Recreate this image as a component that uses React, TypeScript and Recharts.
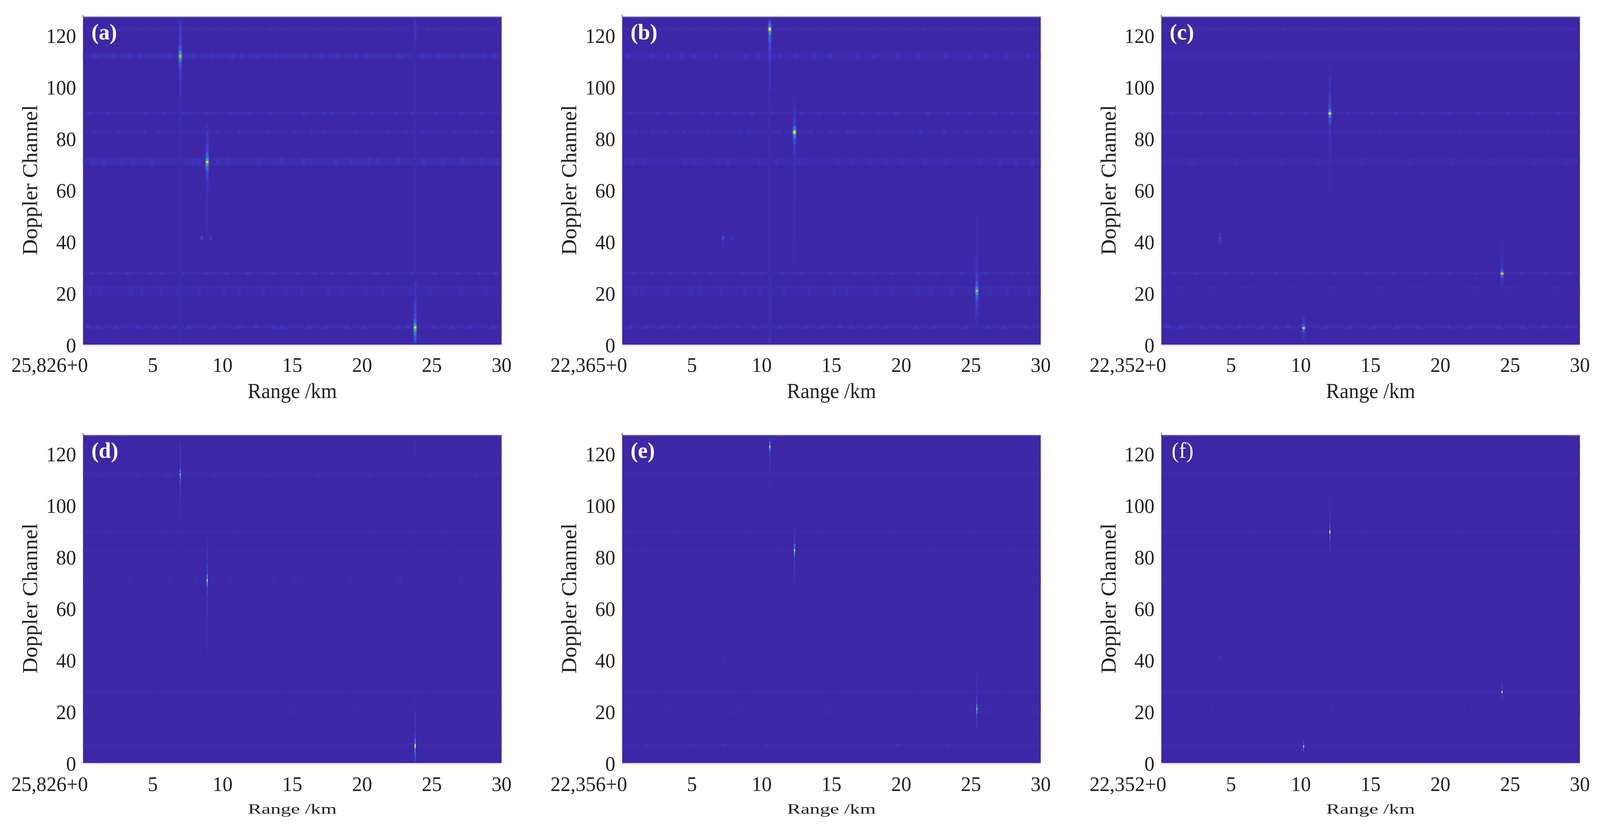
import { ReferenceArea, ReferenceLine, Scatter, ScatterChart, XAxis, YAxis } from "recharts";

// shared axes
const rangeTicks = [0, 5, 10, 15, 20, 25, 30];
const dopplerTicks = [0, 20, 40, 60, 80, 100, 120];
const imageTop = 127.1;

// clutter rows seen in every panel
const bandChannels = [7, 21, 27.7, 71, 82.6, 89.8, 112, 122.5];
const bandThickness = [1.4, 3.6, 1, 2.8, 1.3, 1, 2.4, 1.1];

// (a)
const aBandLevels = [0.028, 0.016, 0.028, 0.022, 0.02, 0.03, 0.022, 0.018];
const aSpots = [
  [0.4, 1.1, 2.3, 3.9, 5.2, 6.6, 7.6, 9.4, 11.2, 12.4, 13.7, 14.3, 16.2, 17.4, 18.9, 20.1, 22.6, 23.3, 25.1, 26.5, 27.8, 29.4],
  [0.5, 1.2, 3.4, 4.2, 5.6, 6.8, 8.3, 10.1, 11.2, 12.9, 14.6, 15.7, 17.6, 18.6, 20.3, 21.5, 23.4, 24.9, 27.1, 28.9],
  [0.6, 1.9, 3.2, 4.8, 5.7, 7.1, 8.9, 10.3, 11.8, 13.6, 15.4, 16.6, 17.9, 19.2, 21.0, 21.8, 23.6, 25.2, 26.9, 28.4, 29.6],
  [0.7, 1.5, 2.8, 3.6, 4.9, 7.9, 8.3, 9.7, 10.4, 12.6, 14.2, 15.8, 16.3, 18.1, 19.2, 20.5, 21.1, 22.6, 24.4, 25.8, 27.2, 28.6, 29.7],
  [0.8, 2.5, 4.4, 5.5, 7.1, 8.6, 9.6, 11.2, 13.2, 15.2, 16.4, 17.3, 19.6, 20.8, 21.8, 23.1, 24.3, 26.7, 28.2, 29.3],
  [0.5, 1.8, 4.5, 5.8, 7.2, 8.9, 10.6, 11.9, 13.4, 15.8, 17.2, 17.9, 19.4, 20.7, 22.4, 23.6, 25.3, 27.1, 28.6],
  [0.9, 2.1, 3.4, 4.1, 5.7, 6.1, 7.9, 9.2, 10.7, 11.4, 12.6, 13.9, 15.9, 17.1, 18.2, 19.6, 20.4, 22.7, 24.3, 25.4, 27.2, 28.8, 29.5],
  [1.2, 2.6, 4.0, 5.1, 7.9, 9.1, 10.2, 11.7, 13.4, 14.2, 16.8, 18.2, 19.9, 20.6, 22.0, 24.7, 25.4, 26.9, 28.6],
];
const aPeakRanges = [6.97, 8.9, 23.8, 8.5, 9.15];
const aPeakChannels = [
  [0.8, 80, 92, 100, 106, 109, 110.5, 112, 113.5, 115, 118, 122, 126],
  [40, 55, 62, 66, 68.5, 70, 71, 72, 73.5, 76, 80, 86],
  [0.8, 2.5, 4.5, 5.8, 6.8, 7.8, 9, 11, 14, 20, 30, 110, 126],
  [40, 41.5, 43],
  [40, 41.5, 43],
];
const aPeakValues = [
  [0.02, 0.02, 0.03, 0.05, 0.09, 0.16, 0.4, 0.85, 0.45, 0.18, 0.1, 0.08, 0.06],
  [0.02, 0.03, 0.05, 0.1, 0.25, 0.55, 1, 0.5, 0.22, 0.1, 0.06, 0.03],
  [0.14, 0.18, 0.3, 0.6, 1, 0.55, 0.25, 0.14, 0.1, 0.05, 0.012, 0.012, 0.05],
  [0.01, 0.1, 0.01],
  [0.01, 0.07, 0.01],
];

// (b)
const bBandLevels = [0.026, 0.016, 0.024, 0.018, 0.024, 0.028, 0.02, 0.018];
const bSpots = [
  [0.6, 1.7, 2.8, 4.1, 5.2, 6.8, 8.2, 9.4, 11.3, 13.2, 14.3, 15.6, 16.4, 17.8, 18.9, 21.1, 22.3, 24.6, 26.2, 27.4, 28.9],
  [0.9, 1.4, 3.2, 4.9, 5.6, 7.1, 8.8, 9.9, 11.6, 13.4, 15.2, 16.1, 18.2, 19.3, 21.2, 22.1, 23.6, 26.4, 27.6, 29.2],
  [0.8, 2.1, 3.4, 5.1, 6.3, 8.7, 9.9, 11.5, 12.8, 14.9, 16.7, 18.1, 19.4, 21.2, 22.5, 24.3, 26.1, 27.9, 29.1],
  [0.7, 1.6, 4.5, 5.2, 6.9, 7.6, 9.8, 11.1, 12.7, 15.5, 16.5, 17.8, 18.9, 20.1, 21.7, 23.2, 25.6, 27.1, 28.2, 29.4],
  [0.9, 2.2, 3.1, 4.4, 6.2, 8.4, 9.1, 11.2, 13.5, 14.9, 16.1, 18.3, 20.9, 21.4, 23.1, 24.7, 26.4, 28.1, 29.3],
  [0.5, 2.6, 3.5, 5.7, 6.8, 8.1, 9.3, 10.7, 12.9, 14.1, 15.9, 17.2, 18.4, 19.6, 21.9, 23.3, 24.9, 26.7, 27.9, 29.7],
  [0.4, 2.2, 3.3, 4.2, 5.1, 6.7, 8.9, 9.8, 11.3, 12.5, 13.8, 14.9, 16.8, 18.1, 19.7, 21.3, 23.2, 24.8, 26.1, 27.6, 29.1],
  [3.8, 5.2, 6.9, 8.1, 9.4, 11.6, 13.3, 14.6, 17.3, 18.9, 20.4, 21.6, 23.1, 25.6, 27.3, 28.7],
];
const bPeakRanges = [10.58, 12.35, 25.42, 7.25, 7.9];
const bPeakChannels = [
  [0.8, 4, 50, 90, 108, 113, 116, 119, 121, 122.5, 124, 126],
  [30, 50, 65, 72, 76, 79, 81, 82.6, 84, 86, 90, 96],
  [8, 13, 16, 18.5, 20, 21, 22, 23.5, 26, 30, 40, 50],
  [36, 40, 41.5, 43],
  [40, 41.5, 43],
];
const bPeakValues = [
  [0.07, 0.03, 0.015, 0.02, 0.05, 0.08, 0.12, 0.2, 0.4, 1, 0.32, 0.12],
  [0.01, 0.015, 0.025, 0.04, 0.07, 0.13, 0.32, 1, 0.3, 0.1, 0.05, 0.015],
  [0.03, 0.06, 0.1, 0.2, 0.45, 0.9, 0.45, 0.18, 0.09, 0.05, 0.02, 0.01],
  [0.01, 0.02, 0.14, 0.02],
  [0.01, 0.05, 0.01],
];

// (c)
const cBandLevels = [0.028, 0.008, 0.024, 0.01, 0.014, 0.026, 0.014, 0.016];
const cSpots = [
  [0.5, 1.4, 2.9, 4.1, 5.6, 7.2, 8.3, 9.1, 11.8, 13.5, 15.2, 16.9, 18.4, 20.6, 22.1, 24.2, 25.9, 27.4, 29.1],
  [1.2, 3.7, 6.2, 9.4, 12.1, 15.6, 18.3, 22.4, 25.1, 28.3],
  [0.9, 2.4, 4.6, 6.5, 8.2, 10.6, 12.4, 14.8, 16.6, 18.9, 20.7, 22.5, 25.8, 27.6, 29.2],
  [2.2, 5.4, 8.7, 11.2, 14.4, 17.8, 20.9, 23.6, 26.8, 29.1],
  [1.1, 3.8, 6.1, 9.5, 12.6, 15.7, 18.2, 21.4, 24.9, 27.7],
  [0.7, 2.8, 4.9, 6.7, 8.6, 10.3, 13.4, 15.1, 16.8, 18.7, 20.6, 22.7, 24.8, 26.5, 28.4],
  [1.4, 4.2, 7.6, 10.9, 13.1, 16.5, 19.8, 22.8, 26.2, 28.9],
  [1.6, 3.9, 6.4, 8.8, 11.3, 13.7, 16.2, 18.6, 21.5, 24.1, 26.7, 29.3],
];
const cPeakRanges = [12.08, 24.42, 10.2, 4.2];
const cPeakChannels = [
  [60, 78, 84, 87, 88.8, 89.8, 90.8, 92.5, 95, 100, 108],
  [22, 25, 26.8, 27.7, 28.6, 30, 33, 40],
  [2, 4, 5.8, 6.6, 7.4, 9, 12],
  [38, 40.5, 41.5, 42.5, 45],
];
const cPeakValues = [
  [0.01, 0.025, 0.05, 0.12, 0.3, 1, 0.3, 0.12, 0.08, 0.04, 0.015],
  [0.02, 0.05, 0.2, 1, 0.18, 0.05, 0.025, 0.01],
  [0.025, 0.06, 0.2, 1, 0.2, 0.06, 0.015],
  [0.01, 0.06, 0.13, 0.06, 0.01],
];

// (d)
const dBandLevels = [0.014, 0.006, 0.008, 0.01, 0.006, 0.009, 0.012, 0.006];
const dSpots = [
  [2.4, 5.6, 8.1, 11.2, 14.6, 17.9, 21.3, 25.6, 28.4],
  [1.9, 6.3, 10.7, 15.1, 19.5, 26.3],
  [0.9, 5.1, 9.7, 14.2, 19.1, 24.8, 28.9],
  [3.4, 6.2, 8.1, 10.6, 13.7, 15.2, 19.1, 22.7, 27.1],
  [2.7, 7.6, 12.9, 17.4, 22.1, 26.9],
  [1.6, 5.9, 11.1, 16.3, 20.8, 25.7],
  [1.1, 3.9, 6.1, 9.4, 13.2, 16.8, 20.6, 24.9, 28.1],
  [4.2, 9.8, 15.4, 21.3, 27.2],
];
const dPeakRanges = [6.97, 8.9, 23.8, 8.5, 9.15];
const dPeakChannels = [
  [0.8, 90, 100, 106, 109.5, 111, 112, 113, 115, 120, 125],
  [36, 52, 62, 67, 70, 71, 72, 75, 80, 88],
  [0.8, 3, 5, 6.8, 8.5, 11, 15, 25, 35, 110, 126],
  [40, 41.5, 43],
  [40, 41.5, 43],
];
const dPeakValues = [
  [0.008, 0.012, 0.03, 0.06, 0.14, 0.4, 0.8, 0.3, 0.1, 0.06, 0.05],
  [0.012, 0.025, 0.05, 0.1, 0.4, 1, 0.35, 0.12, 0.05, 0.02],
  [0.12, 0.2, 0.35, 1, 0.3, 0.1, 0.05, 0.02, 0.01, 0.01, 0.03],
  [0.005, 0.03, 0.005],
  [0.005, 0.03, 0.005],
];

// (e)
const eBandLevels = [0.016, 0.006, 0.006, 0.006, 0.008, 0.009, 0.006, 0.006];
const eSpots = [
  [1.8, 4.9, 7.3, 10.4, 13.9, 16.2, 19.8, 23.3, 27.1],
  [3.2, 8.1, 14.7, 20.6, 26.1],
  [2.6, 8.8, 15.2, 21.1, 27.4],
  [5.1, 11.7, 17.6, 24.2],
  [1.5, 6.4, 11.3, 16.8, 22.3, 28.1],
  [3.9, 9.2, 14.1, 19.4, 25.3],
  [2.1, 8.7, 15.8, 23.4],
  [4.6, 12.2, 19.6, 26.8],
];
const ePeakRanges = [10.58, 12.35, 25.42, 7.25];
const ePeakChannels = [
  [100, 112, 117, 120, 121.8, 122.8, 123.8, 126],
  [58, 68, 75, 79, 81.5, 82.6, 83.7, 87, 92],
  [12, 16, 18.5, 20.2, 21.2, 22.2, 24, 28, 40, 50],
  [38, 40.5, 41.5, 42.5],
];
const ePeakValues = [
  [0.01, 0.025, 0.05, 0.1, 0.35, 1, 0.3, 0.06],
  [0.01, 0.025, 0.05, 0.1, 0.35, 1, 0.3, 0.06, 0.02],
  [0.025, 0.06, 0.12, 0.35, 0.75, 0.35, 0.11, 0.04, 0.015, 0.005],
  [0.005, 0.025, 0.06, 0.02],
];

// (f)
const fBandLevels = [0.01, 0.005, 0.008, 0.006, 0.006, 0.008, 0.006, 0.005];
const fSpots = [
  [2.1, 7.4, 12.8, 18.9, 25.1],
  [3.6, 12.2, 21.7],
  [1.4, 9.6, 17.3, 27.9],
  [6.1, 15.9, 24.6],
  [4.2, 13.7, 22.8],
  [6.4, 11.2, 14.8, 21.3, 28.2],
  [2.9, 10.4, 19.2],
  [8.3, 23.1],
];
const fPeakRanges = [12.08, 24.42, 10.2, 4.2];
const fPeakChannels = [
  [72, 80, 85, 88.4, 89.8, 91, 95, 100, 108],
  [24, 26.8, 27.7, 28.6, 32, 40, 46],
  [3, 5.8, 6.6, 7.4, 10],
  [39, 41, 43],
];
const fPeakValues = [
  [0.005, 0.015, 0.05, 0.16, 1, 0.14, 0.05, 0.025, 0.01],
  [0.01, 0.1, 1, 0.1, 0.02, 0.01, 0.005],
  [0.02, 0.12, 1, 0.12, 0.015],
  [0.005, 0.06, 0.005],
];

// styling
const serif = "'Liberation Serif', 'Times New Roman', serif";
const ink = "#222222";
const background = "#3c27a6";
const rampStops: [number, number[]][] = [
  [0, [60, 39, 166]],
  [0.12, [66, 70, 222]],
  [0.28, [48, 125, 240]],
  [0.45, [30, 175, 210]],
  [0.6, [50, 195, 160]],
  [0.75, [140, 200, 90]],
  [0.9, [240, 195, 45]],
  [1, [249, 251, 21]],
];
const pxPerKm = 1104 / 30;
const pxPerChannel = 845 / 128;

// The browser window comes up 4096 wide, not the 4220 asked for, so the whole
// 4220 layout is squeezed in x to fit instead of losing the right-hand panels.
const fitX = Math.min(1, window.innerWidth / 4220);

const ramp = (value: number) => {
  const v = Math.min(1, Math.max(0, value));
  for (let i = 1; i < rampStops.length; i++) {
    const [t1, c1] = rampStops[i];
    const [t0, c0] = rampStops[i - 1];
    if (v <= t1) {
      const f = (v - t0) / (t1 - t0);
      return `rgb(${c0.map((c, j) => Math.round(c + (c1[j] - c) * f)).join(",")})`;
    }
  }
  return "rgb(249,251,21)";
};

const HeatCell = (props: any) => {
  const { cx, cy, payload } = props;
  const w = payload.widthKm ? payload.widthKm * pxPerKm : payload.widthPx;
  const h = payload.span * pxPerChannel;
  return (
    <rect
      x={cx - w / 2}
      y={cy - h / 2}
      width={w}
      height={h}
      fill={ramp(payload.value)}
      filter={payload.filter}
    />
  );
};

const makeBands = (levels: number[], blur: string) =>
  bandChannels.map((doppler, i) => ({
    range: 15,
    doppler,
    value: levels[i],
    widthKm: 30,
    span: bandThickness[i],
    filter: blur,
  }));

const makeSpots = (spots: number[][], levels: number[], blur: string, gain: number) =>
  spots.flatMap((row, i) =>
    row.map((range) => ({
      range,
      doppler: bandChannels[i],
      value: levels[i] * gain,
      widthKm: 0.24,
      span: bandThickness[i],
      filter: blur,
    })),
  );

const makePeaks = (ranges: number[], channels: number[][], values: number[][], widthPx: number, blur: string) =>
  ranges.flatMap((range, i) =>
    channels[i].map((doppler, j) => {
      const low = j > 0 ? (doppler + channels[i][j - 1]) / 2 : doppler;
      const high = j < channels[i].length - 1 ? (doppler + channels[i][j + 1]) / 2 : doppler;
      return {
        range,
        doppler: (low + high) / 2,
        value: values[i][j],
        widthPx,
        span: high - low,
        filter: blur,
      };
    }),
  );

const RangeTick = (props: any) => {
  const { x, y, payload, prefix, drop } = props;
  const isFirst = payload.value === 0;
  return (
    <text
      x={isFirst ? x + 13 : x}
      y={y + drop}
      textAnchor={isFirst ? "end" : "middle"}
      fontFamily={serif}
      fontSize={53}
      fill={ink}
    >
      {isFirst ? `${prefix}+0` : payload.value}
    </text>
  );
};

const TopTick = (props: any) => {
  const { x, y } = props;
  return <line x1={x} y1={y} x2={x} y2={y + 7} stroke="#dddddd" strokeWidth={2} />;
};

function Panel(props: any) {
  const { id, left, top, tag, tagBold, prefix, levels, spots, ranges, channels, values, wide } = props;
  const bandBlur = `url(#${id}-band)`;
  const spotBlur = `url(#${id}-spot)`;
  const peakBlur = `url(#${id}-peak)`;
  const bands = makeBands(levels, bandBlur);
  const blobs = makeSpots(spots, levels, spotBlur, 2.2);
  const peaks = makePeaks(ranges, channels, values, wide ? 7 : 3, peakBlur);

  return (
    <div style={{ position: "absolute", left, top }}>
      <ScatterChart width={1370} height={1040} margin={{ top: 37, right: 47, bottom: 156, left: 0 }}>
        <defs>
          <filter id={`${id}-band`} x="-5%" y="-400%" width="110%" height="900%">
            <feGaussianBlur stdDeviation="0 2.5" />
          </filter>
          <filter id={`${id}-spot`} x="-150%" y="-300%" width="400%" height="700%">
            <feGaussianBlur stdDeviation="2.5 2" />
          </filter>
          <filter id={`${id}-peak`} filterUnits="userSpaceOnUse" x="0" y="0" width="1370" height="1040">
            <feGaussianBlur stdDeviation={wide ? "1.6 1.4" : "0.6 1"} />
          </filter>
        </defs>
        <XAxis
          type="number"
          dataKey="range"
          domain={[0, 30]}
          ticks={rangeTicks}
          axisLine={false}
          tickLine={false}
          tickSize={0}
          height={1}
          interval={0}
          tick={<RangeTick prefix={prefix} drop={wide ? 67 : 69} />}
        />
        <XAxis
          xAxisId="top"
          orientation="top"
          type="number"
          domain={[0, 30]}
          ticks={rangeTicks}
          axisLine={false}
          tickLine={false}
          tickSize={0}
          height={1}
          interval={0}
          tick={<TopTick />}
        />
        <YAxis
          type="number"
          dataKey="doppler"
          domain={[0, 128]}
          ticks={dopplerTicks}
          width={219}
          axisLine={false}
          tickLine={false}
          tickSize={0}
          tickMargin={18}
          interval={0}
          tick={{ fill: ink, fontSize: 53, fontFamily: serif }}
        />
        <ReferenceArea x1={0} x2={30} y1={0} y2={imageTop} fill={background} fillOpacity={1} stroke="none" />
        <ReferenceLine segment={[{ x: 0, y: imageTop }, { x: 0, y: 128 }]} stroke="#555555" strokeWidth={2} />
        <Scatter data={bands} shape={HeatCell} isAnimationActive={false} />
        <Scatter data={blobs} shape={HeatCell} isAnimationActive={false} />
        <Scatter data={peaks} shape={HeatCell} isAnimationActive={false} />
        <ReferenceLine y={imageTop} stroke="#5b48bb" strokeWidth={3} />
        <ReferenceLine y={0} stroke="#c8c0ec" strokeWidth={2} />
        <text
          transform="translate(98 461) rotate(-90)"
          textAnchor="middle"
          fontFamily={serif}
          fontSize={56}
          fill={ink}
        >
          Doppler Channel
        </text>
        {wide ? (
          <text x={771} y={1019} textAnchor="middle" fontFamily={serif} fontSize={54} fill={ink}>
            Range /km
          </text>
        ) : (
          <text
            x={654}
            y={1012}
            fontFamily={serif}
            fontSize={36}
            fill={ink}
            textLength={234}
            lengthAdjust="spacingAndGlyphs"
          >
            Range /km
          </text>
        )}
      </ScatterChart>
      {/* panel tag sits above the svg, the plot background would cover it otherwise */}
      <div
        style={{
          position: "absolute",
          left: tag === "(f)" ? 246 : 241,
          top: 53,
          fontFamily: serif,
          fontWeight: tagBold ? 700 : 400,
          fontSize: 58,
          lineHeight: 1,
          color: "#ffffff",
        }}
      >
        {tag}
      </div>
    </div>
  );
}

export default function App() {
  return (
    <div
      style={{
        position: "absolute",
        left: 0,
        top: 0,
        width: 4220,
        height: 2112,
        background: "#ffffff",
        transform: `scaleX(${fitX})`,
        transformOrigin: "0 0",
      }}
    >
      <Panel id="a" left={0} top={0} tag="(a)" tagBold prefix="25,826" wide levels={aBandLevels} spots={aSpots} ranges={aPeakRanges} channels={aPeakChannels} values={aPeakValues} />
      <Panel id="b" left={1422} top={0} tag="(b)" tagBold prefix="22,365" wide levels={bBandLevels} spots={bSpots} ranges={bPeakRanges} channels={bPeakChannels} values={bPeakValues} />
      <Panel id="c" left={2844} top={0} tag="(c)" tagBold prefix="22,352" wide levels={cBandLevels} spots={cSpots} ranges={cPeakRanges} channels={cPeakChannels} values={cPeakValues} />
      <Panel id="d" left={0} top={1071} tag="(d)" tagBold prefix="25,826" levels={dBandLevels} spots={dSpots} ranges={dPeakRanges} channels={dPeakChannels} values={dPeakValues} />
      <Panel id="e" left={1422} top={1071} tag="(e)" tagBold prefix="22,356" levels={eBandLevels} spots={eSpots} ranges={ePeakRanges} channels={ePeakChannels} values={ePeakValues} />
      <Panel id="f" left={2844} top={1071} tag="(f)" prefix="22,352" levels={fBandLevels} spots={fSpots} ranges={fPeakRanges} channels={fPeakChannels} values={fPeakValues} />
    </div>
  );
}
